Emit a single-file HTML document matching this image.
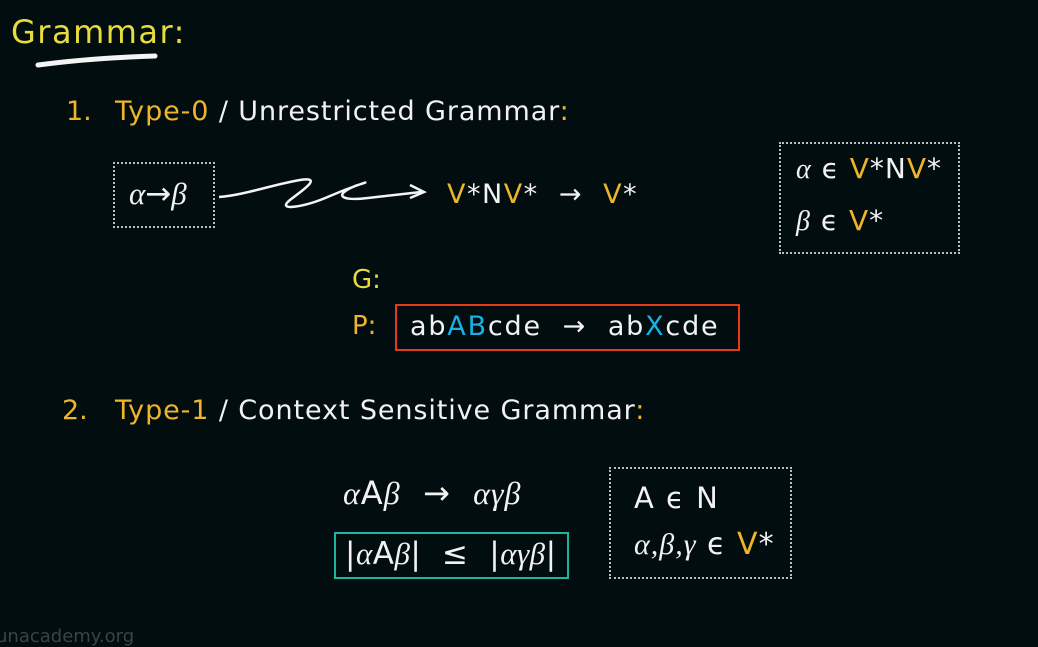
<!DOCTYPE html>
<html><head><meta charset="utf-8"><style>
html,body{margin:0;padding:0}
body{width:1038px;height:642px;background:#020d10;position:relative;overflow:hidden;font-family:"DejaVu Sans","Liberation Sans",sans-serif;color:#f2f2f2}
.t{position:absolute;white-space:nowrap;line-height:1}
.y{color:#efb52a}.yl{color:#e8dc3c}.c{color:#19b2e4}
.m{font-family:"Liberation Serif",serif;font-style:italic}
.box{position:absolute;box-sizing:border-box}
.dot{border:2px dotted #bdbdbd}
</style></head><body>
<div class="t yl" style="left:11px;top:16px;font-size:32px;letter-spacing:1.5px">Grammar:</div>
<svg style="position:absolute;left:0;top:0" width="1038" height="642">
<path d="M38 65 Q90 58 155 56" stroke="#f4f4f4" stroke-width="5" fill="none" stroke-linecap="round"/>
<path d="M219 197 C245 195 275 184 300 180 C325 176 300 192 290 200 C275 212 305 207 330 196 C355 185 380 178 355 186 C332 196 342 201 368 198 L421 192" stroke="#f4f4f4" stroke-width="2.5" fill="none"/>
<path d="M410 185 L424 192 L410 198" stroke="#f4f4f4" stroke-width="2.5" fill="none"/>
</svg>
<div class="t y" style="left:66px;top:98px;font-size:27px">1.</div>
<div class="t" style="left:115px;top:98px;font-size:27px;letter-spacing:0.9px"><span class="y">Type-0</span> / Unrestricted Grammar<span class="y">:</span></div>
<div class="box dot" style="left:113px;top:162px;width:102px;height:66px"></div>
<div class="t" style="left:129px;top:178px;font-size:31px"><span class="m">α</span>→<span class="m">β</span></div>
<div class="t" style="left:447px;top:181px;font-size:27px;letter-spacing:1.5px"><span class="y">V</span>*N<span class="y">V</span>* &nbsp;→ &nbsp;<span class="y">V</span>*</div>
<div class="box dot" style="left:779px;top:142px;width:181px;height:112px"></div>
<div class="t" style="left:796px;top:155px;font-size:28px;letter-spacing:1px"><span class="m">α</span> ϵ <span class="y">V</span>*N<span class="y">V</span>*</div>
<div class="t" style="left:796px;top:207px;font-size:28px;letter-spacing:1px"><span class="m">β</span> ϵ <span class="y">V</span>*</div>
<div class="t yl" style="left:352px;top:267px;font-size:26px">G:</div>
<div class="t y" style="left:352px;top:313px;font-size:26px">P:</div>
<div class="box" style="left:395px;top:304px;width:345px;height:47px;border:2.5px solid #e23a1a"></div>
<div class="t" style="left:410px;top:313px;font-size:27px;letter-spacing:1.8px">ab<span class="c">AB</span>cde &nbsp;→ &nbsp;ab<span class="c">X</span>cde</div>
<div class="t y" style="left:62px;top:397px;font-size:27px">2.</div>
<div class="t" style="left:115px;top:397px;font-size:27px;letter-spacing:0.9px"><span class="y">Type-1</span> / Context Sensitive Grammar<span class="y">:</span></div>
<div class="t" style="left:343px;top:477px;font-size:32px;letter-spacing:1px"><span class="m">α</span>A<span class="m">β</span> &nbsp;→ &nbsp;<span class="m">αγβ</span></div>
<div class="box" style="left:334px;top:532px;width:235px;height:47px;border:2.5px solid #1fb3a2"></div>
<div class="t" style="left:345px;top:538px;font-size:31px;letter-spacing:0.5px">|<span class="m">α</span>A<span class="m">β</span>| &nbsp;≤ &nbsp;|<span class="m">αγβ</span>|</div>
<div class="box dot" style="left:609px;top:467px;width:183px;height:112px"></div>
<div class="t" style="left:634px;top:484px;font-size:29px;letter-spacing:1.5px">A ϵ N</div>
<div class="t" style="left:634px;top:530px;font-size:30px;letter-spacing:1px"><span class="m">α,β,γ</span> ϵ <span class="y">V</span>*</div>
<div class="t" style="left:-4px;top:628px;font-size:18px;color:#3a4446">unacademy.org</div>
</body></html>
